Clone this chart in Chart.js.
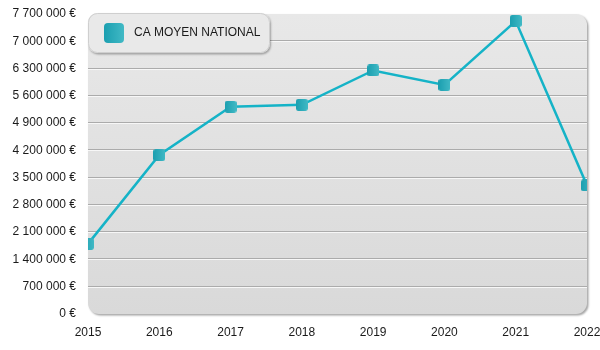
<!DOCTYPE html>
<html>
<head>
<meta charset="utf-8">
<script src="https://cdn.jsdelivr.net/npm/chart.js@4/dist/chart.umd.min.js"></script>
<style>
  html,body{margin:0;padding:0;background:#fff;}
  #wrap{width:600px;height:350px;position:relative;}
</style>
</head>
<body>
<div id="wrap"><canvas id="ca"></canvas></div>
<script>
/* ============ data ============ */
const years = ['2015','2016','2017','2018','2019','2020','2021','2022'];
const caMoyen = [1800000, 4080000, 5320000, 5370000, 6250000, 5880000, 7520000, 3300000];
const seriesName = 'CA MOYEN NATIONAL';
const yMax = 7700000, yStep = 700000;

Chart.defaults.font.family = "'Liberation Sans', Arial, sans-serif";
Chart.defaults.font.size = 12;
Chart.defaults.color = '#1a1a1a';

const fmtEuro = v => String(v).replace(/\B(?=(\d{3})+(?!\d))/g,' ') + ' €';

function rr(ctx,x,y,w,h,r){
  ctx.beginPath();
  ctx.moveTo(x+r,y); ctx.lineTo(x+w-r,y); ctx.arcTo(x+w,y,x+w,y+r,r);
  ctx.lineTo(x+w,y+h-r); ctx.arcTo(x+w,y+h,x+w-r,y+h,r);
  ctx.lineTo(x+r,y+h); ctx.arcTo(x,y+h,x,y+h-r,r);
  ctx.lineTo(x,y+r); ctx.arcTo(x,y,x+r,y,r); ctx.closePath();
}

/* teal rounded-square marker */
function markerCanvas(size){
  const c = document.createElement('canvas'); c.width = size; c.height = size;
  const g = c.getContext('2d');
  const grd = g.createLinearGradient(0,0,size,0);
  grd.addColorStop(0,'#1b9fb0'); grd.addColorStop(1,'#41b9c5');
  g.fillStyle = grd; rr(g,0,0,size,size,size*0.22); g.fill();
  return c;
}
const marker = markerCanvas(12);

/* plot background + embossed grid + legend */
const plotDeco = {
  id:'plotDeco',
  beforeDraw(chart){
    const {ctx, chartArea:a} = chart;
    ctx.save();
    ctx.shadowColor = 'rgba(0,0,0,0.35)'; ctx.shadowBlur = 2; ctx.shadowOffsetX = 1.5; ctx.shadowOffsetY = 1.5;
    const grd = ctx.createLinearGradient(0,a.top,0,a.bottom);
    grd.addColorStop(0,'#e8e8e8'); grd.addColorStop(1,'#d9d9d9');
    ctx.fillStyle = grd; rr(ctx,a.left,a.top,a.right-a.left,a.bottom-a.top,11); ctx.fill();
    ctx.restore();
  },
  beforeDatasetsDraw(chart){
    const {ctx, chartArea:a, scales:{y}} = chart;
    ctx.save();
    y.ticks.forEach(t=>{
      if(t.value<=0 || t.value>=yMax) return;
      const py = Math.round(y.getPixelForValue(t.value));
      ctx.fillStyle = '#ababab'; ctx.fillRect(a.left,py-1,a.right-a.left,1);
      ctx.fillStyle = '#f7f7f7'; ctx.fillRect(a.left,py,a.right-a.left,1);
    });
    ctx.restore();
  },
  afterDraw(chart){
    const {ctx, chartArea:a} = chart;
    const x = a.left, y = a.top - 1, w = 182, h = 40;
    ctx.save();
    ctx.shadowColor = 'rgba(0,0,0,0.3)'; ctx.shadowBlur = 2; ctx.shadowOffsetX = 1; ctx.shadowOffsetY = 1.5;
    ctx.fillStyle = '#e9e9e9'; rr(ctx,x,y,w,h,9); ctx.fill();
    ctx.restore();
    ctx.save();
    ctx.strokeStyle = '#cfcfcf'; ctx.lineWidth = 1; rr(ctx,x+0.5,y+0.5,w-1,h-1,9); ctx.stroke();
    const grd = ctx.createLinearGradient(x+16,0,x+36,0);
    grd.addColorStop(0,'#1b9fb0'); grd.addColorStop(1,'#41b9c5');
    ctx.fillStyle = grd; rr(ctx,x+16,y+10,20,20,4); ctx.fill();
    ctx.fillStyle = '#1a1a1a'; ctx.font = "12px 'Liberation Sans', Arial, sans-serif";
    ctx.textBaseline = 'middle'; ctx.fillText(chart.data.datasets[0].label, x+46, y+20);
    ctx.restore();
  }
};

new Chart(document.getElementById('ca'),{
  type:'line',
  data:{labels:years,datasets:[{
    label:seriesName,data:caMoyen,borderColor:'#15b3c7',borderWidth:2.5,tension:0,
    pointStyle:marker,pointRadius:6,pointHoverRadius:6,clip:0
  }]},
  options:{responsive:true,maintainAspectRatio:false,animation:false,
    layout:{padding:{top:14,right:13,left:0,bottom:0}},
    plugins:{legend:{display:false},tooltip:{enabled:false}},
    scales:{
      x:{offset:false,grid:{display:false,drawTicks:false},border:{display:false},
        ticks:{padding:11,maxRotation:0,autoSkip:false},
        afterFit:s=>{s.height=36; s.paddingRight=0; s.paddingLeft=0;}},
      y:{min:0,max:yMax,grid:{display:false,drawTicks:false},border:{display:false},
        ticks:{stepSize:yStep,padding:12,callback:v=>fmtEuro(v)},
        afterFit:s=>{s.width=88; s.paddingTop=0; s.paddingBottom=0;}}
    }},
  plugins:[plotDeco]
});
</script>
</body>
</html>
